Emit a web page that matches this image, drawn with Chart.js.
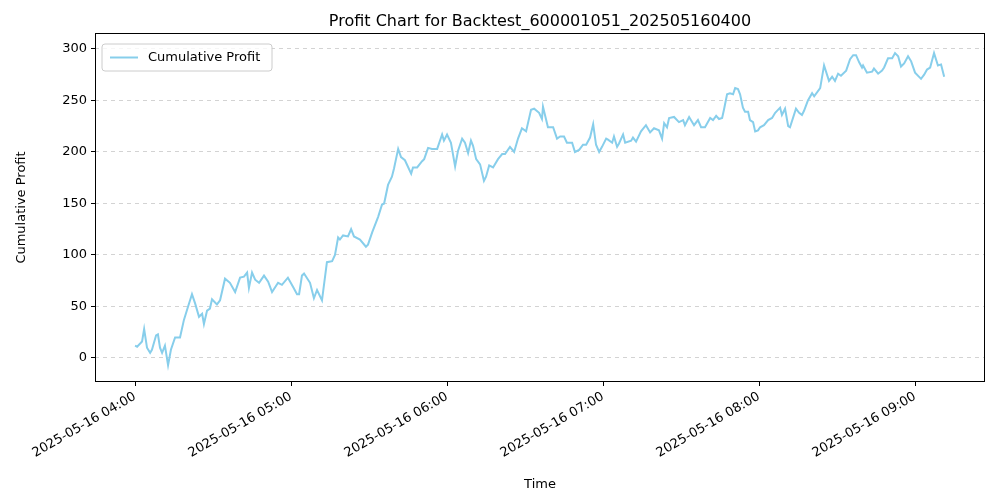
<!DOCTYPE html>
<html>
<head>
<meta charset="utf-8">
<script src="https://cdn.jsdelivr.net/npm/chart.js@4"></script>
<style>
  body { margin: 0; background: #fff; }
  #wrap { width: 1000px; height: 500px; }
</style>
</head>
<body>
<div id="wrap"><canvas id="profit-chart" width="1000" height="500"></canvas></div>
<script>
// minutes after 2025-05-16 04:00
const minutes = [0,0.8,2.7,3.5,4.6,5.8,6.5,8.1,8.8,9.6,10.4,11.5,12.7,13.8,15.4,17.3,18.8,20.4,21.9,23.1,24.6,25.8,26.5,27.7,28.8,29.6,31.5,32.7,34.6,36.5,38.5,40.4,41.9,43.1,43.8,45.0,46.2,47.7,49.6,51.2,52.7,55.0,56.5,58.8,60.8,62.3,63.1,64.2,65.0,67.3,68.8,70.0,71.9,73.8,75.8,76.9,78.1,78.8,80.0,81.9,83.1,84.2,86.5,88.8,89.6,91.2,93.5,95.0,95.8,97.3,98.8,99.6,101.2,102.3,103.8,106.2,106.9,108.5,110.4,111.2,112.7,114.2,116.2,118.1,118.8,120.0,121.5,123.1,124.2,125.8,126.9,128.1,129.2,130.0,131.2,132.7,134.2,135.0,136.2,137.7,139.6,141.2,142.3,144.2,145.8,147.3,148.8,150.4,152.3,153.5,155.4,156.5,156.9,158.8,160.8,162.3,163.5,165.0,166.1,168.1,169.2,170.8,172.3,173.5,175.0,176.2,177.3,178.5,179.6,181.2,181.9,183.5,184.2,185.4,186.1,187.7,188.5,190.8,191.5,192.7,194.6,196.5,198.1,199.6,201.5,202.7,203.5,204.6,205.4,207.3,209.2,210.8,211.5,213.1,215.0,216.5,217.7,219.2,221.2,222.3,223.5,224.6,225.8,226.5,227.7,228.8,230.0,230.8,231.9,232.7,233.8,234.6,235.8,236.5,237.7,238.5,239.6,240.4,241.9,243.5,245.0,246.2,248.1,248.8,250.0,251.2,251.9,254.2,255.4,256.5,257.3,258.8,260.4,261.2,263.5,265.0,266.9,268.1,269.2,270.4,271.5,273.5,275.0,276.2,277.3,278.5,279.6,280.0,281.5,283.5,284.2,285.8,287.3,288.1,289.6,291.2,292.3,293.5,294.6,295.8,297.3,298.5,300.0,302.3,303.5,304.6,305.8,307.3,308.8,310.0,311.2]
const profit = [12,11,16,28,10,5,8,22,23,10,5,12,-7,8,20,20,37,50,62,53,40,43,33,46,48,57,52,56,77,73,64,78,79,83,68,83,76,73,80,74,64,73,71,78,69,62,62,80,82,73,58,66,56,93,94,100,117,115,119,118,125,118,115,108,110,122,137,149,150,168,176,184,203,195,192,179,185,185,191,193,204,203,203,217,211,217,209,186,201,213,209,199,211,206,193,188,172,176,187,185,193,198,198,205,200,213,223,220,241,242,238,232,244,224,224,213,215,215,209,209,200,202,207,207,214,227,207,200,205,213,212,209,215,205,208,217,209,211,214,210,220,226,219,223,221,213,228,224,233,234,229,231,226,234,226,231,224,224,233,231,235,232,233,241,256,257,256,262,261,256,243,239,239,231,229,220,221,224,226,231,233,238,243,236,242,225,224,242,238,236,240,250,257,254,262,284,269,273,269,276,274,279,290,294,294,287,282,284,277,278,281,276,279,282,291,291,296,293,283,286,293,288,277,271,275,280,282,296,284,285,273]
const xTickStep = 60
const yTicks = [0, 50, 100, 150, 200, 250, 300]

const font = "'DejaVu Sans', sans-serif"

function fmtTime(m){
    let h = 4 + Math.floor(m / 60)
    let mm = Math.round(m % 60)
    return '2025-05-16 ' + String(h).padStart(2, '0') + ':' + String(mm).padStart(2, '0')
}

// title, frame and in-plot legend, matplotlib style
const decor = {
    id: 'decor',
    afterDraw(chart){
        const ctx = chart.ctx
        const a = chart.chartArea
        ctx.save()
        ctx.strokeStyle = '#000'
        ctx.lineWidth = 1
        ctx.strokeRect(a.left + 0.5, a.top + 0.5, a.right - a.left - 1, a.bottom - a.top - 1)

        ctx.fillStyle = '#000'
        ctx.font = '16px ' + font
        ctx.textAlign = 'center'
        ctx.textBaseline = 'middle'
        ctx.fillText('Profit Chart for Backtest_600001051_202505160400', (a.left + a.right) / 2, 22)

        // legend box
        const lx = a.left + 7, ly = a.top + 11
        ctx.fillStyle = 'rgba(255,255,255,0.8)'
        ctx.strokeStyle = '#cccccc'
        ctx.beginPath()
        ctx.roundRect(lx, ly, 170, 27, 3)
        ctx.fill()
        ctx.stroke()
        ctx.strokeStyle = 'skyblue'
        ctx.lineWidth = 2
        ctx.beginPath()
        ctx.moveTo(lx + 8, ly + 13.5)
        ctx.lineTo(lx + 36, ly + 13.5)
        ctx.stroke()
        ctx.fillStyle = '#000'
        ctx.font = '13px ' + font
        ctx.textAlign = 'left'
        ctx.fillText('Cumulative Profit', lx + 46, ly + 14)
        ctx.restore()
    }
}

const ctx = document.getElementById('profit-chart').getContext('2d')
new Chart(ctx, {
    type: 'line',
    data: {
        datasets: [{
            label: 'Cumulative Profit',
            data: minutes.map((m, i) => ({ x: m, y: profit[i] })),
            borderColor: 'skyblue',
            borderWidth: 2,
            pointRadius: 0,
            tension: 0,
            fill: false,
        }]
    },
    options: {
        responsive: false,
        animation: false,
        layout: { padding: { top: 33, right: 15, left: 10, bottom: 8 } },
        plugins: { legend: { display: false }, title: { display: false }, tooltip: { enabled: false } },
        scales: {
            x: {
                type: 'linear',
                min: -15.4,
                max: 326.9,
                afterBuildTicks(scale){
                    scale.ticks = [0, 1, 2, 3, 4, 5].map(k => ({ value: k * xTickStep }))
                },
                afterFit(scale){ scale.height = 110 },
                grid: { drawOnChartArea: false, drawTicks: true, tickLength: 4, tickColor: '#000' },
                border: { display: false },
                ticks: {
                    color: '#000',
                    font: { family: font, size: 13 },
                    maxRotation: 30,
                    minRotation: 30,
                    autoSkip: false,
                    callback: v => fmtTime(v),
                },
                title: { display: true, text: 'Time', color: '#000', font: { family: font, size: 13 }, padding: 0 },
            },
            y: {
                min: -23.3,
                max: 315.5,
                afterBuildTicks(scale){
                    scale.ticks = yTicks.map(v => ({ value: v }))
                },
                afterFit(scale){ scale.width = 85 },
                grid: { color: '#d3d3d3', tickColor: '#000', tickLength: 4, tickBorderDash: [] },
                border: { display: false, dash: [4, 4] },
                ticks: { color: '#000', font: { family: font, size: 13 }, padding: 4 },
                title: { display: true, text: 'Cumulative Profit', color: '#000', font: { family: font, size: 13 }, padding: 4 },
            }
        }
    },
    plugins: [decor]
})
</script>
</body>
</html>
